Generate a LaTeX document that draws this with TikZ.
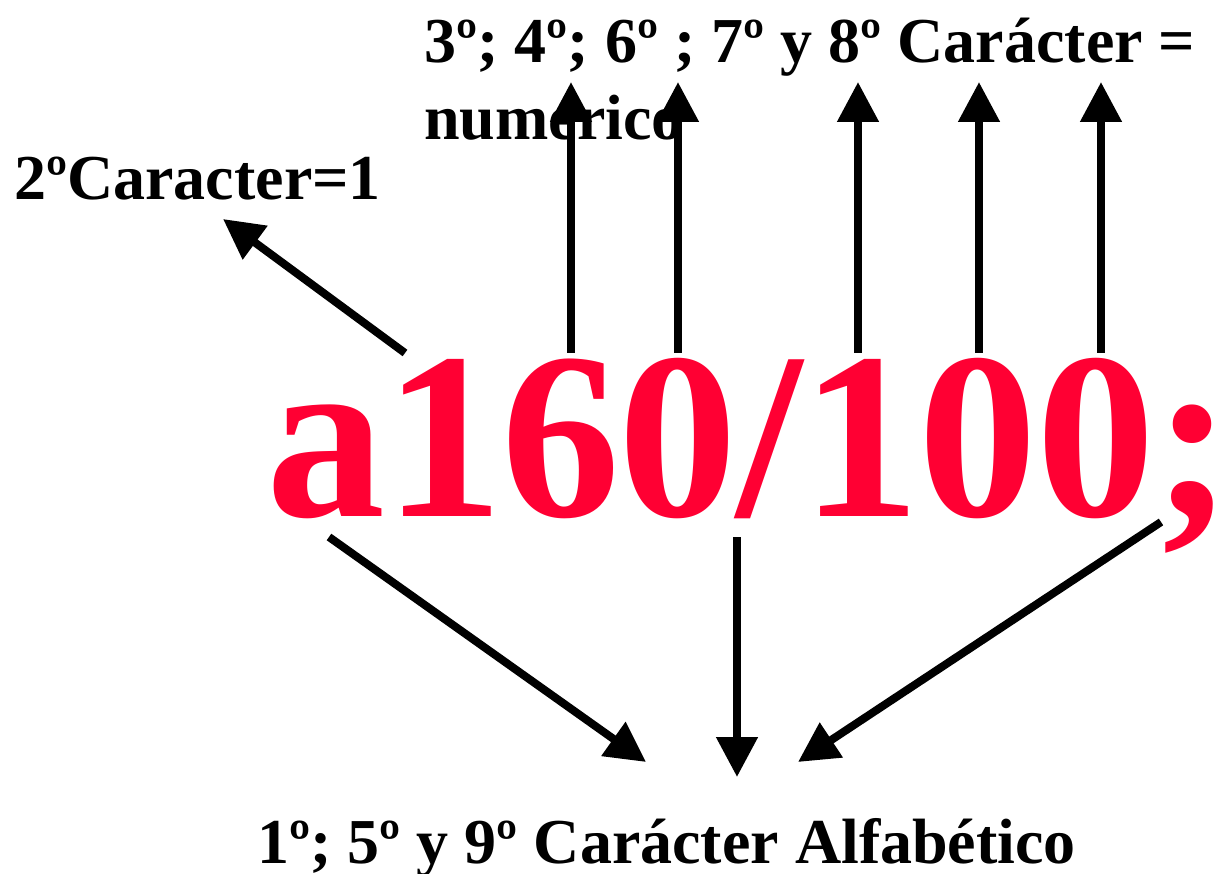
\documentclass[tikz,border=0pt]{standalone}
\usepackage{fontspec}
\setmainfont{Liberation Serif}
\usetikzlibrary{arrows.meta}
\definecolor{bigred}{HTML}{FF0033}
\tikzset{
  lbl/.style={inner sep=0pt, anchor=base west, font=\bfseries\fontsize{64}{77}\selectfont},
  big/.style={inner sep=0pt, anchor=base west, text=bigred, font=\bfseries\fontsize{238}{238}\selectfont\addfontfeatures{LetterSpace=-0.6}},
  arr/.style={line width=8pt, -{Triangle[width=40pt,length=40pt]}}
}
\begin{document}
\begin{tikzpicture}[x=1pt,y=-1pt]
\useasboundingbox (0,0) rectangle (1223,874);
\node[big] (code) at (266,516) {a160/100;};
\node[lbl, align=left] (top) at (424,140) {3º; 4º; 6º ; 7º y 8º Carácter =\\numerico};
\node[lbl] (second) at (14,200) {2ºCaracter=1};
\node[lbl] (bottom) at (257,863) {1º; 5º y 9º Carácter Alfabético};
% tails and tips
\coordinate (s2) at (405,353);  \coordinate (e2) at (223,219);
\coordinate (s3) at (571,353);  \coordinate (e3) at (571,82);
\coordinate (s4) at (678,353);  \coordinate (e4) at (678,82);
\coordinate (s6) at (858,353);  \coordinate (e6) at (858,82);
\coordinate (s7) at (979,353);  \coordinate (e7) at (979,82);
\coordinate (s8) at (1101,353); \coordinate (e8) at (1101,82);
\coordinate (s1) at (329,537);  \coordinate (e1) at (646,762);
\coordinate (s5) at (737,537);  \coordinate (e5) at (737,777);
\coordinate (s9) at (1161,522); \coordinate (e9) at (798,762);
\foreach \i in {1,...,9} {\draw[arr] (s\i) -- (e\i);}
\end{tikzpicture}
\end{document}
